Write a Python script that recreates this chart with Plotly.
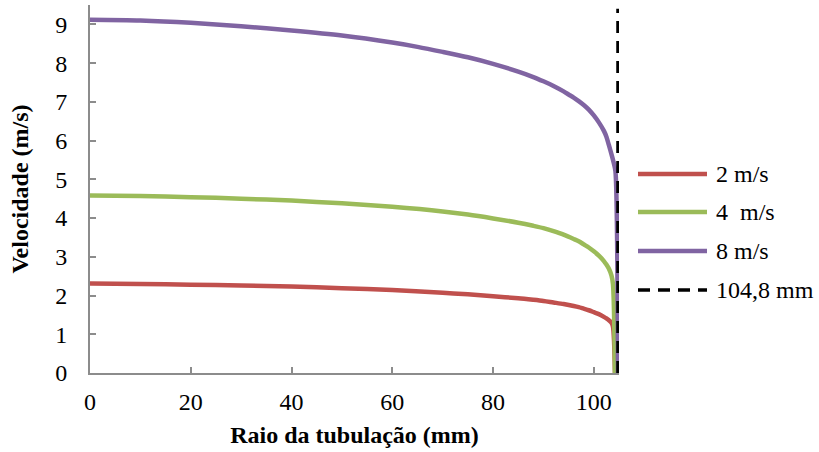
import plotly.graph_objects as go

# Data
r_2 = [0, 10, 20, 30, 40, 50, 60, 70, 75, 80, 85, 88, 90, 92, 94, 96, 97, 98, 99, 100, 101, 102, 102.5, 103, 103.5, 103.8, 104.2]
v_2 = [2.31, 2.30, 2.28, 2.26, 2.23, 2.19, 2.14, 2.07, 2.03, 1.98, 1.93, 1.89, 1.86, 1.82, 1.78, 1.73, 1.70, 1.66, 1.62, 1.57, 1.52, 1.45, 1.41, 1.36, 1.30, 1.20, 0]
r_4 = [0, 10, 20, 30, 40, 50, 60, 70, 75, 80, 85, 88, 90, 92, 94, 96, 97, 98, 99, 100, 101, 102, 102.5, 103, 103.5, 103.8, 104.2]
v_4 = [4.58, 4.57, 4.54, 4.50, 4.45, 4.38, 4.29, 4.17, 4.09, 3.99, 3.88, 3.80, 3.74, 3.66, 3.57, 3.46, 3.40, 3.32, 3.24, 3.14, 3.03, 2.89, 2.80, 2.69, 2.52, 2.30, 0]
r_8 = [0, 10, 20, 30, 40, 50, 60, 65, 70, 75, 80, 85, 88, 90, 92, 94, 95, 96, 97, 98, 99, 100, 101, 102, 102.5, 103, 103.5, 104, 104.3, 104.8]
v_8 = [9.12, 9.10, 9.04, 8.95, 8.84, 8.71, 8.53, 8.42, 8.29, 8.15, 7.98, 7.78, 7.64, 7.53, 7.41, 7.27, 7.19, 7.11, 7.02, 6.92, 6.80, 6.65, 6.47, 6.25, 6.10, 5.88, 5.65, 5.40, 5.20, 0]
parede_x = [104.8, 104.8]
parede_y = [0, 9.4]

names = ["2 m/s", "4  m/s", "8 m/s", "104,8 mm"]
colors = ["#C0504D", "#9BBB59", "#8064A2", "#000000"]
series = [(r_2, v_2), (r_4, v_4), (r_8, v_8)]

FONT = "Liberation Serif, Times New Roman, serif"
W, H = 819, 452
L, R, T, B = 90, 200, 5, 79
pw, ph = W - L - R, H - T - B

fig = go.Figure()
for name, col, (xs, ys) in zip(names[:3], colors[:3], series):
    fig.add_trace(go.Scatter(x=xs, y=ys, mode="lines", name=name,
                             line=dict(color=col, width=4.5, shape="spline", smoothing=0.8),
                             showlegend=False))
fig.add_trace(go.Scatter(x=parede_x, y=parede_y, mode="lines", name=names[3],
                         line=dict(color="black", width=3.5, dash="12px,8px"),
                         showlegend=False))

def px_x(p):
    return (p - L) / pw

def px_y(p):
    return (H - B - p) / ph

shapes = []
annotations = []
rows = [174, 212, 251, 290]
for i, (name, col) in enumerate(zip(names, colors)):
    y = px_y(rows[i])
    line = dict(color=col, width=4.5)
    if i == 3:
        line = dict(color=col, width=3.5, dash="12px,8px")
    shapes.append(dict(type="line", xref="paper", yref="paper",
                       x0=px_x(638), x1=px_x(707), y0=y, y1=y, line=line))
    annotations.append(dict(xref="paper", yref="paper", x=px_x(714), y=y,
                            text=name, showarrow=False, xanchor="left", yanchor="middle",
                            font=dict(family=FONT, size=24, color="black")))

fig.update_layout(
    width=W, height=H,
    margin=dict(l=L, r=R, t=T, b=B),
    paper_bgcolor="white", plot_bgcolor="white",
    font=dict(family=FONT, size=24, color="black"),
    shapes=shapes, annotations=annotations,
    showlegend=False,
)
axcol = "#8c8c8c"
fig.update_xaxes(range=[0, 105], tickvals=[0, 20, 40, 60, 80, 100],
                 showline=True, linecolor=axcol, linewidth=2,
                 ticks="inside", ticklen=6, tickcolor=axcol, tickwidth=1.5,
                 showgrid=False, zeroline=False, ticklabelstandoff=6,
                 tickfont=dict(family=FONT, size=24),
                 title=dict(text="<b>Raio da tubulação (mm)</b>", font=dict(family=FONT, size=24), standoff=12))
fig.update_yaxes(range=[0, 9.5], tickvals=list(range(10)),
                 showline=True, linecolor=axcol, linewidth=2,
                 ticks="inside", ticklen=6, tickcolor=axcol, tickwidth=1.5,
                 showgrid=False, zeroline=False, ticklabelstandoff=16,
                 tickfont=dict(family=FONT, size=24),
                 title=dict(text="<b>Velocidade (m/s)</b>", font=dict(family=FONT, size=24), standoff=20))

fig.write_html("out.html")
